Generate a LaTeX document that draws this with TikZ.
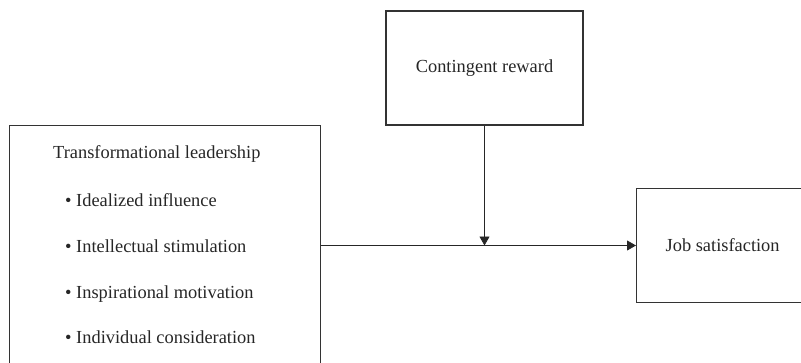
\documentclass[tikz,border=0pt]{standalone}
\usepackage{fontspec}
\setmainfont{Liberation Serif}
\usetikzlibrary{arrows.meta, positioning}

\begin{document}
\begin{tikzpicture}[
    x=1pt, y=-1pt,
    node distance = 20pt and 20pt,
    punkt/.style = {rectangle, draw=black!80, line width=1.3pt, inner sep=0pt, text=black!85},
    pil/.style = {black!85, line width=0.8pt, -{Triangle[length=9pt, width=10pt]}},
    tekst/.style = {inner sep=0pt, anchor=base west, text=black!85},
    font=\fontsize{18.4}{22}\selectfont
    ]
  \useasboundingbox (0,0) rectangle (801,362);

  \node[punkt, minimum width=311pt, minimum height=260pt, anchor=north west] (TL) at (9,125) {} ;
  \node[punkt, minimum width=197pt, minimum height=114pt] (CR) at (484.5,68) {Contingent reward} ;
  \node[punkt, minimum width=172pt, minimum height=114pt, anchor=west] (JS) at (636,245.5) {Job satisfaction} ;

  \node[tekst] (title) at (53,158) {Transformational leadership} ;
  \node[tekst] (idealized) at (65,206) {\textbullet\ Idealized influence} ;
  \node[tekst] (intellectual) at (65,252) {\textbullet\ Intellectual stimulation} ;
  \node[tekst] (inspirational) at (65,298) {\textbullet\ Inspirational motivation} ;
  \node[tekst] (individual) at (65,343) {\textbullet\ Individual consideration} ;

  \coordinate (moderate) at (CR.south |- JS.west) ;

  \draw[pil] (TL.east |- JS.west) -- (JS.west) ;
  \draw[pil] (CR.south) -- (moderate) ;
\end{tikzpicture}
\end{document}
